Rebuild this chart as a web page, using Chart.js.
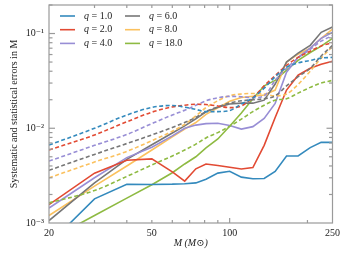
<!DOCTYPE html>
<html>
<head>
<meta charset="utf-8">
<script src="https://cdn.jsdelivr.net/npm/chart.js@4.4.1/dist/chart.umd.min.js"></script>
<style>
  html, body { margin: 0; padding: 0; background: #fff; }
</style>
</head>
<body>
<canvas id="grafico" width="345" height="255"></canvas>
<script>
// Massas (eixo x) e os valores lidos para cada q
const massas = [20, 30, 40, 50, 60, 67, 74, 81, 90, 100, 111, 123, 136, 150, 166, 184, 205, 226, 250];
const qValores = ['1.0', '2.0', '4.0', '6.0', '8.0', '18.0'];

// linhas cheias
const cheiaQ1 = [6e-4, 1.8e-3, 2.56e-3, 2.55e-3, 2.57e-3, 2.6e-3, 2.65e-3, 2.9e-3, 3.36e-3, 3.52e-3, 3.05e-3, 2.93e-3, 2.95e-3, 3.5e-3, 5.1e-3, 5.1e-3, 6.25e-3, 7.1e-3, 7.1e-3];
const cheiaQ2 = [1.56e-3, 3.36e-3, 4.6e-3, 4.75e-3, 3.47e-3, 2.77e-3, 3.73e-3, 4.2e-3, 4.05e-3, 3.87e-3, 3.72e-3, 3.85e-3, 6.6e-3, 1.3e-2, 2.53e-2, 3.63e-2, 4.3e-2, 4.75e-2, 5.1e-2];
const cheiaQ4 = [1.44e-3, 3.0e-3, 4.9e-3, 6.3e-3, 8.3e-3, 1.0e-2, 1.08e-2, 1.12e-2, 1.13e-2, 1.07e-2, 9.8e-3, 1.04e-2, 1.27e-2, 1.83e-2, 3.9e-2, 5.6e-2, 7.0e-2, 8.9e-2, 0.103];
const cheiaQ6 = [1.06e-3, 2.65e-3, 4.7e-3, 6.7e-3, 8.9e-3, 1.06e-2, 1.26e-2, 1.49e-2, 1.67e-2, 1.8e-2, 1.84e-2, 1.84e-2, 1.98e-2, 2.93e-2, 5.0e-2, 6.2e-2, 7.5e-2, 0.103, 0.117];
const cheiaQ8 = [1.2e-3, 2.45e-3, 4.0e-3, 5.9e-3, 8.1e-3, 9.8e-3, 1.15e-2, 1.4e-2, 1.64e-2, 1.93e-2, 2.11e-2, 2.18e-2, 2.24e-2, 2.53e-2, 5.0e-2, 6.05e-2, 7.0e-2, 8.9e-2, 0.111];
const cheiaQ18 = [6.6e-4, 1.2e-3, 1.83e-3, 2.53e-3, 3.39e-3, 4.2e-3, 5.0e-3, 6.2e-3, 7.7e-3, 1.05e-2, 1.45e-2, 2.05e-2, 2.8e-2, 3.2e-2, 4.1e-2, 5.2e-2, 6.3e-2, 7.35e-2, 8.9e-2];

// linhas tracejadas
const tracoQ1 = [6.65e-3, 1.0e-2, 1.38e-2, 1.66e-2, 1.74e-2, 1.67e-2, 1.58e-2, 1.5e-2, 1.5e-2, 1.54e-2, 1.8e-2, 2.1e-2, 2.65e-2, 3.5e-2, 4.4e-2, 4.9e-2, 5.2e-2, 5.5e-2, 5.6e-2];
const tracoQ2 = [5.9e-3, 8.5e-3, 1.17e-2, 1.48e-2, 1.68e-2, 1.75e-2, 1.79e-2, 1.78e-2, 1.72e-2, 1.65e-2, 1.72e-2, 2.1e-2, 2.8e-2, 3.6e-2, 4.6e-2, 5.6e-2, 6.5e-2, 7.4e-2, 8.0e-2];
const tracoQ4 = [4.5e-3, 6.6e-3, 8.6e-3, 1.12e-2, 1.38e-2, 1.55e-2, 1.75e-2, 1.95e-2, 2.1e-2, 2.17e-2, 2.15e-2, 2.1e-2, 2.2e-2, 3.2e-2, 4.3e-2, 5.5e-2, 6.8e-2, 8.3e-2, 9.5e-2];
const tracoQ6 = [3.6e-3, 5.3e-3, 6.9e-3, 8.5e-3, 1.02e-2, 1.15e-2, 1.3e-2, 1.5e-2, 1.68e-2, 1.85e-2, 1.95e-2, 2.0e-2, 2.05e-2, 2.2e-2, 2.8e-2, 3.5e-2, 4.3e-2, 5.8e-2, 7.5e-2];
const tracoQ8 = [3.0e-3, 4.4e-3, 5.7e-3, 7.4e-3, 9.3e-3, 1.1e-2, 1.35e-2, 1.65e-2, 1.95e-2, 2.2e-2, 2.3e-2, 2.33e-2, 2.3e-2, 2.2e-2, 2.3e-2, 2.9e-2, 4.0e-2, 5.5e-2, 7.3e-2];
const tracoQ18 = [1.63e-3, 2.2e-3, 3.1e-3, 4.1e-3, 5.1e-3, 5.9e-3, 6.8e-3, 7.9e-3, 9.0e-3, 1.05e-2, 1.25e-2, 1.5e-2, 1.75e-2, 1.98e-2, 2.05e-2, 2.35e-2, 2.7e-2, 3.0e-2, 3.2e-2];

const xTicks = [20, 50, 100, 250];
const yTicks = [1e-3, 1e-2, 1e-1];
const yTickLabels = ['10\u207B\u00B3', '10\u207B\u00B2', '10\u207B\u00B9'];

const cores = ['#348ABD', '#E24A33', '#988ED5', '#777777', '#FBC15E', '#8EBA42'];
const cheias = [cheiaQ1, cheiaQ2, cheiaQ4, cheiaQ6, cheiaQ8, cheiaQ18];
const tracos = [tracoQ1, tracoQ2, tracoQ4, tracoQ6, tracoQ8, tracoQ18];

const fonte = '"Liberation Serif", "DejaVu Serif", serif';

function pontos(valores) {
    return massas.map((m, i) => ({ x: m, y: valores[i] }));
}

const datasets = [];
tracos.forEach((v, i) => {
    datasets.push({
        label: 'q = ' + qValores[i] + ' (tracejada)',
        data: pontos(v),
        borderColor: cores[i],
        borderWidth: 1.6,
        borderDash: [4, 2.5],
        cubicInterpolationMode: 'monotone',
        pointRadius: 0,
        fill: false
    });
});
cheias.forEach((v, i) => {
    datasets.push({
        label: 'q = ' + qValores[i],
        data: pontos(v),
        borderColor: cores[i],
        borderWidth: 1.6,
        tension: 0,
        pointRadius: 0,
        fill: false
    });
});

// Legenda desenhada dentro do grafico, em duas colunas
const legendaQ = {
    id: 'legendaQ',
    afterDraw(chart) {
        const c = chart.ctx;
        c.save();
        qValores.forEach((q, i) => {
            const col = Math.floor(i / 3);
            const row = i % 3;
            const x0 = 60 + col * 65;
            const y = 16 + row * 13.7;
            c.strokeStyle = cores[i];
            c.lineWidth = 1.6;
            c.beginPath();
            c.moveTo(x0, y);
            c.lineTo(x0 + 15, y);
            c.stroke();
            c.fillStyle = '#222';
            c.textBaseline = 'middle';
            c.font = 'italic 10px ' + fonte;
            c.fillText('q', x0 + 24, y);
            const w = c.measureText('q').width;
            c.font = '10px ' + fonte;
            c.fillText(' = ' + q, x0 + 24 + w, y);
        });
        c.restore();
    }
};

// Moldura e marcas menores para dentro, como no original
const moldura = {
    id: 'moldura',
    afterDraw(chart) {
        const c = chart.ctx;
        const a = chart.chartArea;
        const sx = chart.scales.x;
        const sy = chart.scales.y;
        c.save();
        c.strokeStyle = '#9a9a9a';
        c.lineWidth = 1.2;
        c.strokeRect(a.left, a.top, a.right - a.left, a.bottom - a.top);

        const xMaior = [100];
        const xMenor = [30, 40, 50, 60, 70, 80, 90, 200];
        const marca = (x1, y1, x2, y2) => {
            c.beginPath();
            c.moveTo(x1, y1);
            c.lineTo(x2, y2);
            c.stroke();
        };
        xMaior.forEach(v => {
            const p = sx.getPixelForValue(v);
            marca(p, a.bottom, p, a.bottom - 5);
            marca(p, a.top, p, a.top + 5);
        });
        xMenor.forEach(v => {
            const p = sx.getPixelForValue(v);
            marca(p, a.bottom, p, a.bottom - 3);
            marca(p, a.top, p, a.top + 3);
        });
        [1e-2, 1e-1].forEach(v => {
            const p = sy.getPixelForValue(v);
            marca(a.left, p, a.left + 6, p);
            marca(a.right, p, a.right - 6, p);
        });
        [1e-3, 1e-2, 1e-1].forEach(d => {
            for (let k = 2; k <= 9; k++) {
                const v = k * d;
                if (v > sy.max) break;
                const p = sy.getPixelForValue(v);
                marca(a.left, p, a.left + 3.5, p);
                marca(a.right, p, a.right - 3.5, p);
            }
        });
        c.restore();
    }
};

const ctx = document.getElementById('grafico');
new Chart(ctx, {
    type: 'line',
    data: { datasets: datasets },
    options: {
        responsive: false,
        animation: false,
        devicePixelRatio: 1,
        layout: { padding: { top: 5, right: 12.5, left: 0, bottom: 0 } },
        plugins: {
            legend: { display: false },
            tooltip: { enabled: false }
        },
        scales: {
            x: {
                type: 'logarithmic',
                min: 20,
                max: 250,
                afterBuildTicks: s => { s.ticks = xTicks.map(v => ({ value: v })); },
                afterFit: s => { s.height = 32; s.paddingLeft = 0; s.paddingRight = 0; },
                grid: { display: false, drawTicks: false },
                border: { display: false },
                ticks: {
                    autoSkip: false,
                    maxRotation: 0,
                    padding: 4,
                    color: '#222',
                    font: { family: fonte, size: 10 },
                    callback: v => String(v)
                },
                title: {
                    display: true,
                    text: 'M (M\u2299)',
                    color: '#222',
                    font: { family: fonte, size: 10, style: 'italic' },
                    padding: { top: 0, bottom: 6 }
                }
            },
            y: {
                type: 'logarithmic',
                min: 1e-3,
                max: 0.2,
                afterBuildTicks: s => { s.ticks = yTicks.map(v => ({ value: v })); },
                afterFit: s => { s.width = 49; s.paddingTop = 0; s.paddingBottom = 0; },
                grid: { display: false, drawTicks: false },
                border: { display: false },
                ticks: {
                    autoSkip: false,
                    padding: 5,
                    color: '#222',
                    font: { family: fonte, size: 10 },
                    callback: v => {
                        const i = yTicks.findIndex(t => Math.abs(t - v) / t < 1e-6);
                        return i >= 0 ? yTickLabels[i] : '';
                    }
                },
                title: {
                    display: true,
                    text: 'Systematic and statistical errors in M',
                    color: '#222',
                    font: { family: fonte, size: 10 },
                    padding: { top: 8, bottom: 0 }
                }
            }
        }
    },
    plugins: [moldura, legendaQ]
});
</script>
</body>
</html>
